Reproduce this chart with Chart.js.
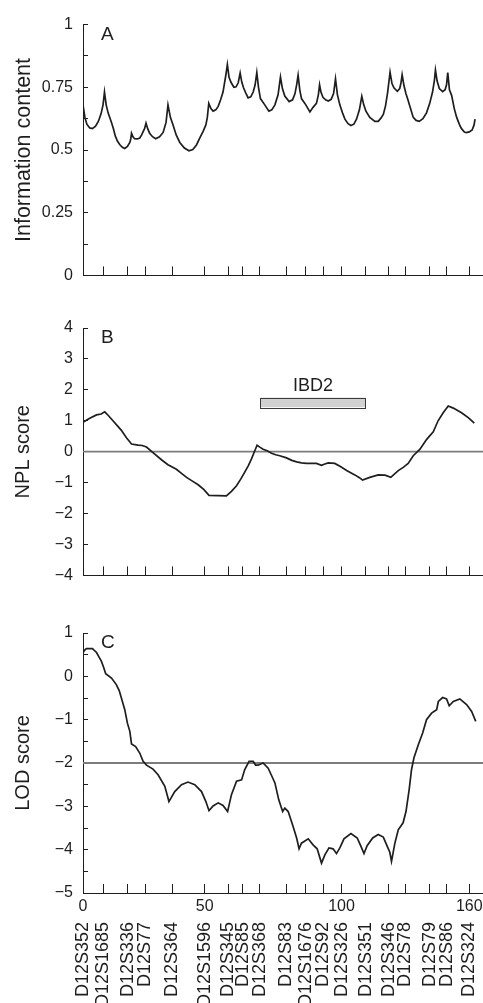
<!DOCTYPE html>
<html>
<head>
<meta charset="utf-8">
<title>Chromosome 12 scan</title>
<script src="https://cdn.jsdelivr.net/npm/chart.js@4/dist/chart.umd.min.js"></script>
<style>
  html, body { margin: 0; padding: 0; background: #fff; }
  #wrap { position: relative; width: 483px; height: 1003px; overflow: hidden; }
  .panel { position: absolute; left: 0; width: 483px; }
  #pA { top: 0; height: 300px; }
  #pB { top: 300px; height: 300px; }
  #pC { top: 600px; height: 403px; }
</style>
</head>
<body>
<div id="wrap">
  <div class="panel" id="pA"><canvas id="chartA" width="483" height="300"></canvas></div>
  <div class="panel" id="pB"><canvas id="chartB" width="483" height="300"></canvas></div>
  <div class="panel" id="pC"><canvas id="chartC" width="483" height="403"></canvas></div>
</div>
<script>
// ---- marcadores (posição em cM) ----
const markerNames = ['D12S352', 'D12S1685', 'D12S336', 'D12S77', 'D12S364', 'D12S1596', 'D12S345', 'D12S85',
    'D12S368', 'D12S83', 'D12S1676', 'D12S92', 'D12S326', 'D12S351', 'D12S346', 'D12S78', 'D12S79', 'D12S86', 'D12S324'];
const markerPos = [0, 8.3, 18.6, 25.9, 36.9, 50.4, 60.1, 66.2, 73.2, 84.1, 92.2, 99.5, 107.1, 117.2, 126.7, 133.5, 143.7, 150.6, 160];
// rótulos numéricos do eixo x (um por marcador, vazio = sem rótulo)
const xNumLabels = ['0', '', '', '', '', '50', '', '', '', '', '', '', '100', '', '', '', '', '', '160'];
const X_MAX = 165.7;

// ---- A: information content ----
const infoX = [0, 0.8, 1.6, 2.8, 3.9, 5.2, 6.4, 7.5, 8.3, 8.9, 9.6, 10.4, 11.8, 12.6, 13.4, 14.3, 15.2, 16.3, 17.3, 18.4,
    19.4, 19.8, 20.1, 20.7, 21.4, 22.5, 23.5, 24.3, 24.9, 25.5, 26.1, 26.8, 27.6, 28.8, 30.1, 31.7, 33.2, 34.4, 35.2, 36.2,
    37.3, 38.6, 40.1, 42, 43.9, 45.5, 47, 48.4, 49.8, 50.9, 51.5, 52.1, 53, 53.9, 55, 56, 57, 58, 59.2, 59.8,
    60.5, 61.3, 62.5, 63.4, 64.3, 65.1, 65.8, 66.5, 67.4, 68.4, 69.5, 70.5, 71.3, 72, 72.7, 73.5, 75.3, 77, 78.2, 79.5,
    80.8, 81.8, 82.6, 83.6, 85.4, 86.8, 87.8, 88.5, 89.1, 89.8, 90.5, 92.3, 93.2, 94, 95.3, 96.7, 97.5, 98, 98.6, 99.4,
    100.5, 101.6, 102.8, 103.8, 104.6, 105.4, 106.4, 107.5, 108.5, 109.8, 111, 112.2, 113.3, 114.5, 115.5, 116.3, 117.2, 118.8, 120.9, 122.3,
    123.4, 124.4, 125.3, 126.2, 127.2, 128, 128.8, 130.2, 131.2, 131.7, 132.2, 133, 133.8, 134.6, 135.4, 136.8, 138, 139.3, 140.8, 142.3,
    143.6, 144.8, 145.6, 146, 146.7, 147.6, 149, 150, 150.6, 151.1, 151.8, 152.7, 153.8, 154.8, 156, 156.8, 158, 158.8, 160, 161.2,
    162, 162.4];
const infoY = [0.68, 0.63, 0.603, 0.588, 0.585, 0.595, 0.615, 0.645, 0.68, 0.731, 0.68, 0.648, 0.61, 0.585, 0.555, 0.535, 0.522, 0.511, 0.506, 0.514,
    0.53, 0.545, 0.567, 0.553, 0.545, 0.544, 0.548, 0.56, 0.573, 0.585, 0.607, 0.585, 0.567, 0.553, 0.545, 0.553, 0.57, 0.61, 0.68, 0.63,
    0.6, 0.56, 0.53, 0.508, 0.497, 0.502, 0.52, 0.548, 0.575, 0.6, 0.63, 0.686, 0.665, 0.655, 0.66, 0.674, 0.7, 0.731, 0.8, 0.841,
    0.79, 0.77, 0.75, 0.752, 0.768, 0.807, 0.77, 0.748, 0.728, 0.708, 0.712, 0.731, 0.76, 0.809, 0.75, 0.705, 0.68, 0.655, 0.66, 0.68,
    0.72, 0.791, 0.745, 0.715, 0.693, 0.7, 0.724, 0.76, 0.798, 0.74, 0.705, 0.68, 0.665, 0.652, 0.67, 0.686, 0.72, 0.76, 0.73, 0.71,
    0.7, 0.695, 0.702, 0.725, 0.784, 0.72, 0.68, 0.648, 0.623, 0.605, 0.598, 0.603, 0.623, 0.66, 0.714, 0.68, 0.655, 0.63, 0.614, 0.614,
    0.627, 0.642, 0.675, 0.73, 0.81, 0.765, 0.748, 0.734, 0.745, 0.766, 0.8, 0.755, 0.724, 0.7, 0.674, 0.63, 0.618, 0.614, 0.625, 0.648,
    0.685, 0.731, 0.78, 0.819, 0.775, 0.745, 0.733, 0.74, 0.76, 0.809, 0.74, 0.718, 0.665, 0.63, 0.6, 0.585, 0.572, 0.569, 0.572, 0.58,
    0.6, 0.623];

// ---- B: NPL score ----
const nplX = [0, 2.8, 5.6, 7.5, 9, 10.5, 12.4, 14, 15.9, 18, 20.1, 22.8, 24.5, 26.3, 29, 32.5, 35.2, 38.7, 40.8, 42.9,
    45.5, 47.7, 50, 52.2, 56, 59.4, 61.5, 63.6, 65.4, 67, 68.5, 69.8, 71, 72.1, 73.4, 74.6, 76.3, 78.1, 79.8, 81.5,
    84.3, 86.5, 88.5, 90.5, 92.6, 94.5, 96.7, 98.8, 100.2, 101.6, 104.3, 106.8, 109.2, 112.6, 114.5, 115.8, 118.8, 122.3, 125.1, 127.5,
    130.6, 132.8, 134.7, 136.8, 139.6, 142.3, 145.1, 147.1, 149.2, 151.3, 153.4, 156.8, 159.6, 162.1];
const nplY = [0.95, 1.08, 1.19, 1.22, 1.29, 1.17, 1.0, 0.86, 0.69, 0.45, 0.25, 0.21, 0.2, 0.15, -0.03, -0.26, -0.42, -0.57, -0.7, -0.83,
    -0.96, -1.07, -1.22, -1.41, -1.42, -1.43, -1.28, -1.1, -0.88, -0.66, -0.45, -0.23, 0.0, 0.21, 0.14, 0.08, 0.03, -0.05, -0.1, -0.13,
    -0.2, -0.28, -0.33, -0.36, -0.38, -0.38, -0.38, -0.44, -0.4, -0.36, -0.38, -0.49, -0.61, -0.75, -0.84, -0.92, -0.83, -0.75, -0.76, -0.83,
    -0.61, -0.5, -0.38, -0.13, 0.08, 0.39, 0.64, 1.0, 1.26, 1.48, 1.41, 1.26, 1.1, 0.92];
const nplRef = 0;
// barra IBD2 (de D12S368 a D12S351)
const ibd2Span = [73.5, 117.1];
const ibd2Band = [1.44, 1.75];

// ---- C: LOD score ----
const lodX = [0, 0.6, 1.4, 3.9, 5.6, 6.6, 7.6, 8.6, 9.4, 11.8, 13.8, 15, 15.9, 17.3, 18.4, 19.4, 20.1, 21.8, 23.5, 24.9,
    26.3, 29, 31.1, 33.9, 35.6, 38, 40.8, 43.5, 46.3, 49.1, 50.9, 52.2, 53.9, 56, 58, 59.9, 61.5, 63.6, 65.7, 67,
    68.8, 70.5, 71.5, 72.5, 74.6, 76.7, 78.2, 79.5, 81.1, 82.7, 83.6, 85, 87, 88.5, 89.5, 90.5, 93.3, 95.3, 97, 98.8,
    100.2, 101.9, 103.6, 105, 106.4, 108.1, 111, 113.6, 115.1, 116.4, 117.7, 120, 122.3, 124.4, 126, 127.1, 127.8, 129.2, 130.6, 132.6,
    133.8, 135.1, 136.1, 137.1, 138.9, 140.7, 142.3, 144.4, 146.5, 147.2, 149, 150.6, 151.7, 153.4, 156.1, 158.9, 161, 162.7];
const lodY = [0.54, 0.6, 0.64, 0.64, 0.55, 0.45, 0.35, 0.2, 0.06, -0.04, -0.19, -0.33, -0.5, -0.77, -1.08, -1.27, -1.56, -1.62, -1.77, -1.96,
    -2.05, -2.14, -2.27, -2.54, -2.89, -2.66, -2.5, -2.44, -2.5, -2.66, -2.89, -3.1, -2.99, -2.92, -2.98, -3.12, -2.73, -2.42, -2.39, -2.15,
    -1.96, -1.96, -2.05, -2.05, -2.0, -2.12, -2.3, -2.46, -2.85, -3.12, -3.04, -3.12, -3.46, -3.73, -3.98, -3.85, -3.75, -3.89, -3.98, -4.31,
    -4.12, -3.96, -3.98, -4.09, -3.96, -3.75, -3.63, -3.73, -3.92, -4.09, -3.91, -3.73, -3.65, -3.71, -3.92, -4.06, -4.27, -3.85, -3.54, -3.38,
    -3.12, -2.62, -2.15, -1.88, -1.58, -1.31, -1.0, -0.85, -0.77, -0.58, -0.49, -0.52, -0.68, -0.58, -0.52, -0.65, -0.81, -1.04];
const lodRef = -2;

// ==========================================
// ESTILO
// ==========================================
const INK = '#1e1e1e';
const REF = '#7c7c7c';
const FAMILY = "'Liberation Sans', Arial, sans-serif";
Chart.defaults.font.family = FAMILY;
Chart.defaults.color = INK;

function fmtNum(v) {
    return v < 0 ? '\u2212' + Math.abs(v) : String(v);
}

function toPoints(xs, ys) {
    return xs.map((x, i) => ({ x: x, y: ys[i] }));
}

// letra do painel + barra IBD2
const decoPlugin = {
    id: 'deco',
    afterDraw(chart, args, opts) {
        const ctx = chart.ctx;
        const area = chart.chartArea;
        ctx.save();
        ctx.fillStyle = INK;
        ctx.font = '19px ' + FAMILY;
        ctx.textBaseline = 'alphabetic';
        ctx.textAlign = 'left';
        ctx.fillText(opts.letter, area.left + 18, area.top + 15);

        if (opts.bar) {
            const xs = chart.scales.x, ys = chart.scales.y;
            const x1 = xs.getPixelForValue(opts.bar.span[0]);
            const x2 = xs.getPixelForValue(opts.bar.span[1]);
            const y1 = ys.getPixelForValue(opts.bar.band[1]);
            const y2 = ys.getPixelForValue(opts.bar.band[0]);
            ctx.fillStyle = '#d2d2d2';
            ctx.fillRect(x1, y1, x2 - x1, y2 - y1);
            ctx.strokeStyle = '#3a3a3a';
            ctx.lineWidth = 1;
            ctx.strokeRect(Math.round(x1) + 0.5, Math.round(y1) + 0.5, Math.round(x2 - x1), Math.round(y2 - y1));
            ctx.fillStyle = INK;
            ctx.font = '18px ' + FAMILY;
            ctx.textAlign = 'center';
            ctx.fillText(opts.bar.label, (x1 + x2) / 2, y1 - 6.5);
        }
        ctx.restore();
    }
};

function xAxis(height, showNums) {
    return {
        type: 'linear', position: 'bottom', min: 0, max: X_MAX, weight: 0,
        afterBuildTicks: s => { s.ticks = markerPos.map(v => ({ value: v })); },
        afterFit: s => { s.height = height; s.paddingLeft = 0; s.paddingRight = 0; },
        grid: { drawOnChartArea: false, tickLength: -9, color: INK, lineWidth: 1 },
        border: { color: INK, width: 1 },
        ticks: {
            display: showNums, autoSkip: false, maxRotation: 0, minRotation: 0, padding: 13,
            font: { size: 16 }, color: INK,
            callback: (v, i) => xNumLabels[i]
        }
    };
}

function yAxis(min, max, step, every, title, titleSize) {
    return {
        min: min, max: max,
        afterFit: s => { s.width = 83; },
        grid: { drawOnChartArea: false, tickLength: -5, color: INK, lineWidth: 1 },
        border: { color: INK, width: 1 },
        ticks: {
            stepSize: step, autoSkip: false, padding: 15, font: { size: 16 }, color: INK,
            callback: v => (Math.abs(v / every - Math.round(v / every)) < 1e-6 ? fmtNum(v) : '')
        },
        title: { display: true, text: title, font: { size: titleSize }, color: INK, padding: { top: 11, bottom: 0 } }
    };
}

function curve(xs, ys) {
    return {
        data: toPoints(xs, ys), borderColor: INK, borderWidth: 1.7,
        pointRadius: 0, tension: 0, fill: false
    };
}

function refLine(v) {
    return {
        data: [{ x: 0, y: v }, { x: X_MAX, y: v }], borderColor: REF, borderWidth: 1.8,
        pointRadius: 0, tension: 0, fill: false
    };
}

const baseOpts = {
    responsive: false,
    devicePixelRatio: 1,
    animation: false,
    plugins: { legend: { display: false }, tooltip: { enabled: false } }
};

// ---- painel A ----
new Chart(document.getElementById('chartA'), {
    type: 'line',
    data: { datasets: [curve(infoX, infoY)] },
    options: {
        ...baseOpts,
        layout: { padding: { top: 19, left: 0, right: 0, bottom: 0 } },
        scales: { x: xAxis(17, false), y: yAxis(0, 1, 0.125, 0.25, 'Information content', 21.5) },
        plugins: { ...baseOpts.plugins, deco: { letter: 'A' } }
    },
    plugins: [decoPlugin]
});

// ---- painel B ----
new Chart(document.getElementById('chartB'), {
    type: 'line',
    data: { datasets: [curve(nplX, nplY), refLine(nplRef)] },
    options: {
        ...baseOpts,
        layout: { padding: { top: 28, left: 0, right: 0, bottom: 0 } },
        scales: { x: xAxis(13, false), y: yAxis(-4, 4, 1, 1, 'NPL score', 20) },
        plugins: { ...baseOpts.plugins, deco: { letter: 'B', bar: { span: ibd2Span, band: ibd2Band, label: 'IBD2' } } }
    },
    plugins: [decoPlugin]
});

// ---- painel C ----
new Chart(document.getElementById('chartC'), {
    type: 'line',
    data: { datasets: [curve(lodX, lodY), refLine(lodRef)] },
    options: {
        ...baseOpts,
        layout: { padding: { top: 33, left: 0, right: 0, bottom: 0 } },
        scales: {
            x: xAxis(22, true),
            names: {
                type: 'linear', position: 'bottom', min: 0, max: X_MAX, weight: 1,
                afterBuildTicks: s => { s.ticks = markerPos.map(v => ({ value: v })); },
                afterFit: s => { s.height = 88; s.paddingLeft = 0; s.paddingRight = 0; },
                grid: { display: false, drawTicks: false },
                border: { display: false },
                ticks: {
                    autoSkip: false, minRotation: 90, maxRotation: 90, padding: 7,
                    font: { size: 18 }, color: INK,
                    callback: (v, i) => markerNames[i]
                }
            },
            y: yAxis(-5, 1, 0.5, 1, 'LOD score', 20)
        },
        plugins: { ...baseOpts.plugins, deco: { letter: 'C' } }
    },
    plugins: [decoPlugin]
});
</script>
</body>
</html>
